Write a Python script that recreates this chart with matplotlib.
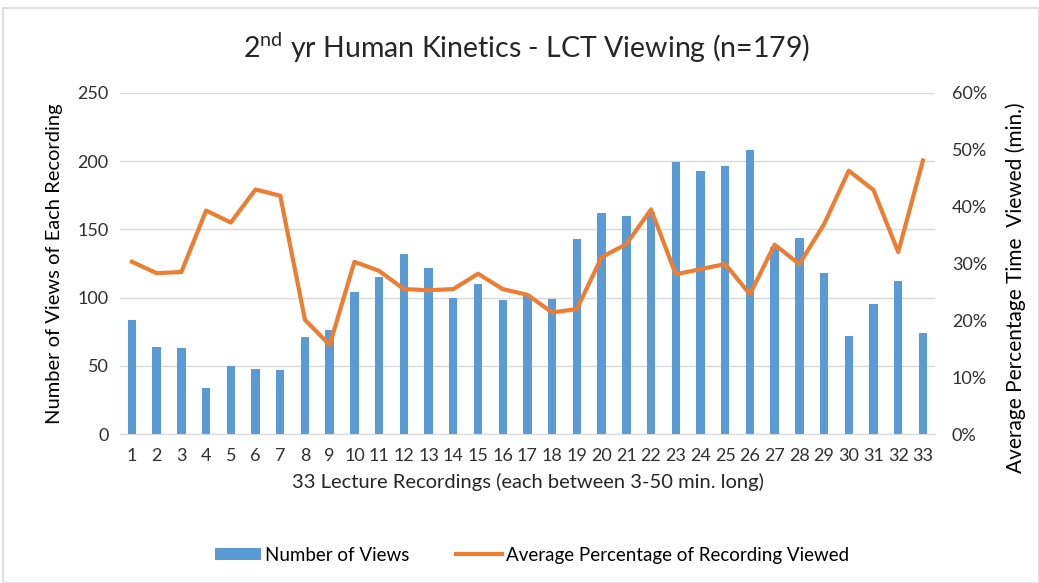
import numpy as np
import matplotlib
matplotlib.use("Agg")
import matplotlib.pyplot as plt
from matplotlib.patches import Rectangle, Patch
from matplotlib.lines import Line2D
from matplotlib.ticker import FuncFormatter

plt.rcParams['font.family'] = ['Lato', 'DejaVu Sans']
plt.rcParams['mathtext.fontset'] = 'custom'
plt.rcParams['mathtext.rm'] = 'Lato'

# data
lectures = list(range(1, 34))
views = [84, 64, 63, 34, 50, 48, 47, 71, 76, 104, 115, 132, 122, 100, 110, 98,
         102, 99, 143, 162, 160, 163, 199, 193, 196, 208, 137, 144, 118, 72, 95, 112, 74]
avg_pct = [30.3, 28.3, 28.5, 39.3, 37.2, 43.0, 41.9, 20.1, 15.7, 30.3, 28.7, 25.5,
           25.3, 25.5, 28.2, 25.5, 24.5, 21.4, 22.0, 31.1, 33.4, 39.5, 28.1, 29.0,
           29.9, 24.6, 33.3, 29.9, 36.9, 46.3, 42.9, 32.0, 48.1]

blue = '#5b9bd5'
orange = '#ed7d31'
txt = '#303030'

fig = plt.figure(figsize=(10.39, 5.83), dpi=100)
fig.patches.append(Rectangle((3 / 1039, 0), 1 - 3 / 1039, 1 - 8 / 583, transform=fig.transFigure,
                             fill=False, edgecolor='#d9d9d9', linewidth=1.2))

ax = fig.add_axes([0.1151, 0.2551, 0.7851, 0.5859])
ax.bar(lectures, views, width=0.34, color=blue, zorder=2)
ax.set_xlim(0.5, 33.5)
ax.set_ylim(0, 250)
ax.set_yticks(range(0, 251, 50))
ax.set_xticks(lectures)
ax.grid(axis='y', color='#d9d9d9', linewidth=1, zorder=0)
for s in ['top', 'right', 'left']:
    ax.spines[s].set_visible(False)
ax.spines['bottom'].set_color('#d9d9d9')
ax.tick_params(axis='both', length=0, labelsize=13, labelcolor=txt)
ax.tick_params(axis='x', pad=10)
ax.tick_params(axis='y', pad=8)
ax.set_ylabel('Number of Views of Each Recording', fontsize=14.5, color='black', labelpad=10)
ax.set_xlabel('33 Lecture Recordings (each between 3-50 min. long)', fontsize=14.5,
              color='#262626', labelpad=6)

ax2 = ax.twinx()
ax2.plot(lectures, avg_pct, color=orange, linewidth=3, zorder=3)
ax2.set_ylim(0, 60)
ax2.set_yticks(range(0, 61, 10))
ax2.yaxis.set_major_formatter(FuncFormatter(lambda v, p: f'{int(v)}%'))
for s in ['top', 'right', 'left', 'bottom']:
    ax2.spines[s].set_visible(False)
ax2.tick_params(axis='y', length=0, labelsize=13, labelcolor=txt, pad=12)
ax2.set_ylabel('Average Percentage Time  Viewed (min.)', fontsize=15, color='black')
ax2.yaxis.set_label_coords(1.086, 0.43)

fig.text(0.507, 0.918, r'2$^{\mathrm{nd}}$ yr Human Kinetics - LCT Viewing (n=179)',
         ha='center', va='center', fontsize=20.5, color='#262626')

handles = [Patch(facecolor=blue, edgecolor='none'),
           Line2D([0], [0], color=orange, linewidth=3)]
fig.legend(handles, ['Number of Views', 'Average Percentage of Recording Viewed'],
           loc='center', bbox_to_anchor=(0.512, 0.048), ncol=2, frameon=False,
           fontsize=13.5, handlelength=2.5, handleheight=0.6, columnspacing=2.45,
           handletextpad=0.2)

fig.savefig('out.png', dpi=100)
